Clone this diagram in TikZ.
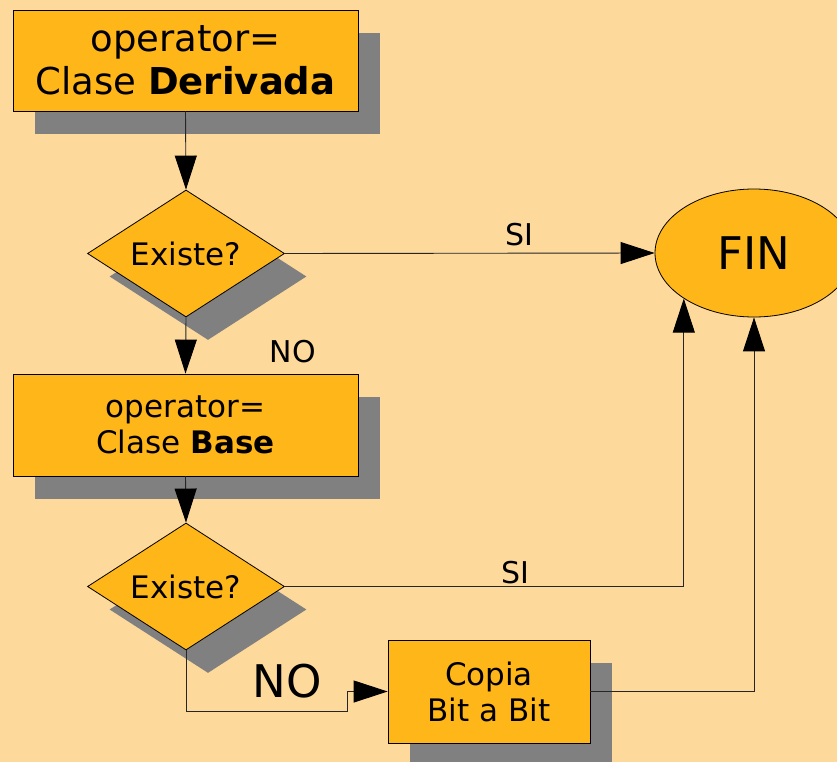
\documentclass[tikz,border=0pt]{standalone}
\usepackage{fontspec}
\setmainfont{DejaVu Sans}
\usetikzlibrary{shapes.geometric,shadows,arrows.meta}
\definecolor{bg}{RGB}{253,217,155}
\definecolor{boxfill}{RGB}{255,182,24}
\definecolor{shd}{RGB}{128,128,128}
\begin{document}
\begin{tikzpicture}[x=1pt,y=-1pt,
  shad/.style={drop shadow={shadow xshift=22pt,shadow yshift=-23pt,fill=shd,opacity=1}},
  procbox/.style={rectangle,draw=black,line width=0.8pt,fill=boxfill,align=center,inner sep=0pt,shad},
  decision/.style={diamond,draw=black,line width=0.8pt,fill=boxfill,inner sep=0pt,
     minimum width=197pt,minimum height=127pt,aspect=1.55,shad,font=\fontsize{31}{36}\selectfont},
  endnode/.style={ellipse,draw=black,line width=0.8pt,fill=boxfill,inner sep=0pt,
     minimum width=198pt,minimum height=128pt,font=\fontsize{45}{54}\selectfont},
  conn/.style={draw=black!85,line width=0.9pt},
  arr/.style={conn,-{Triangle[length=34pt,width=22pt,fill=black,color=black]}},
  lbl/.style={inner sep=0pt,font=\fontsize{30}{36}\selectfont}
]
\useasboundingbox (0,0) rectangle (837,762);
\fill[bg] (0,0) rectangle (837,762);

\node[procbox,minimum width=345pt,minimum height=101pt,font=\fontsize{37}{43}\selectfont]
  (b1) at (185.5,60.5) {operator=\\Clase \textbf{Derivada}};
\node[decision] (d1) at (186,253.5) {Existe?};
\node[procbox,minimum width=345pt,minimum height=102pt,font=\fontsize{31}{36}\selectfont]
  (b2) at (185.5,425) {operator=\\Clase \textbf{Base}};
\node[decision] (d2) at (186,586.5) {Existe?};
\node[procbox,minimum width=202pt,minimum height=103pt,font=\fontsize{31}{36}\selectfont]
  (b3) at (489,691.5) {Copia\\Bit a Bit};
\node[endnode] (fin) at (754,253) {FIN};

\coordinate (j) at (347,711);

\draw[arr] (b1.south) -- (d1.north);
\draw[arr] (d1.south) -- (b2.north);
\draw[arr] (d1.east) -- (fin.west);
\draw[arr] (b2.south) -- (d2.north);
\draw[arr] (d2.east) -| (fin.213);
\draw[arr] (d2.south) |- (j) |- (b3.west);
\draw[arr] (b3.east) -| (fin.south);

\node[lbl] (si1) at (519,235) {SI};
\node[lbl] (no1) at (293,352) {NO};
\node[lbl] (si2) at (515,573) {SI};
\node[lbl,font=\fontsize{45}{54}\selectfont] (no2) at (287,681) {NO};
\end{tikzpicture}
\end{document}
